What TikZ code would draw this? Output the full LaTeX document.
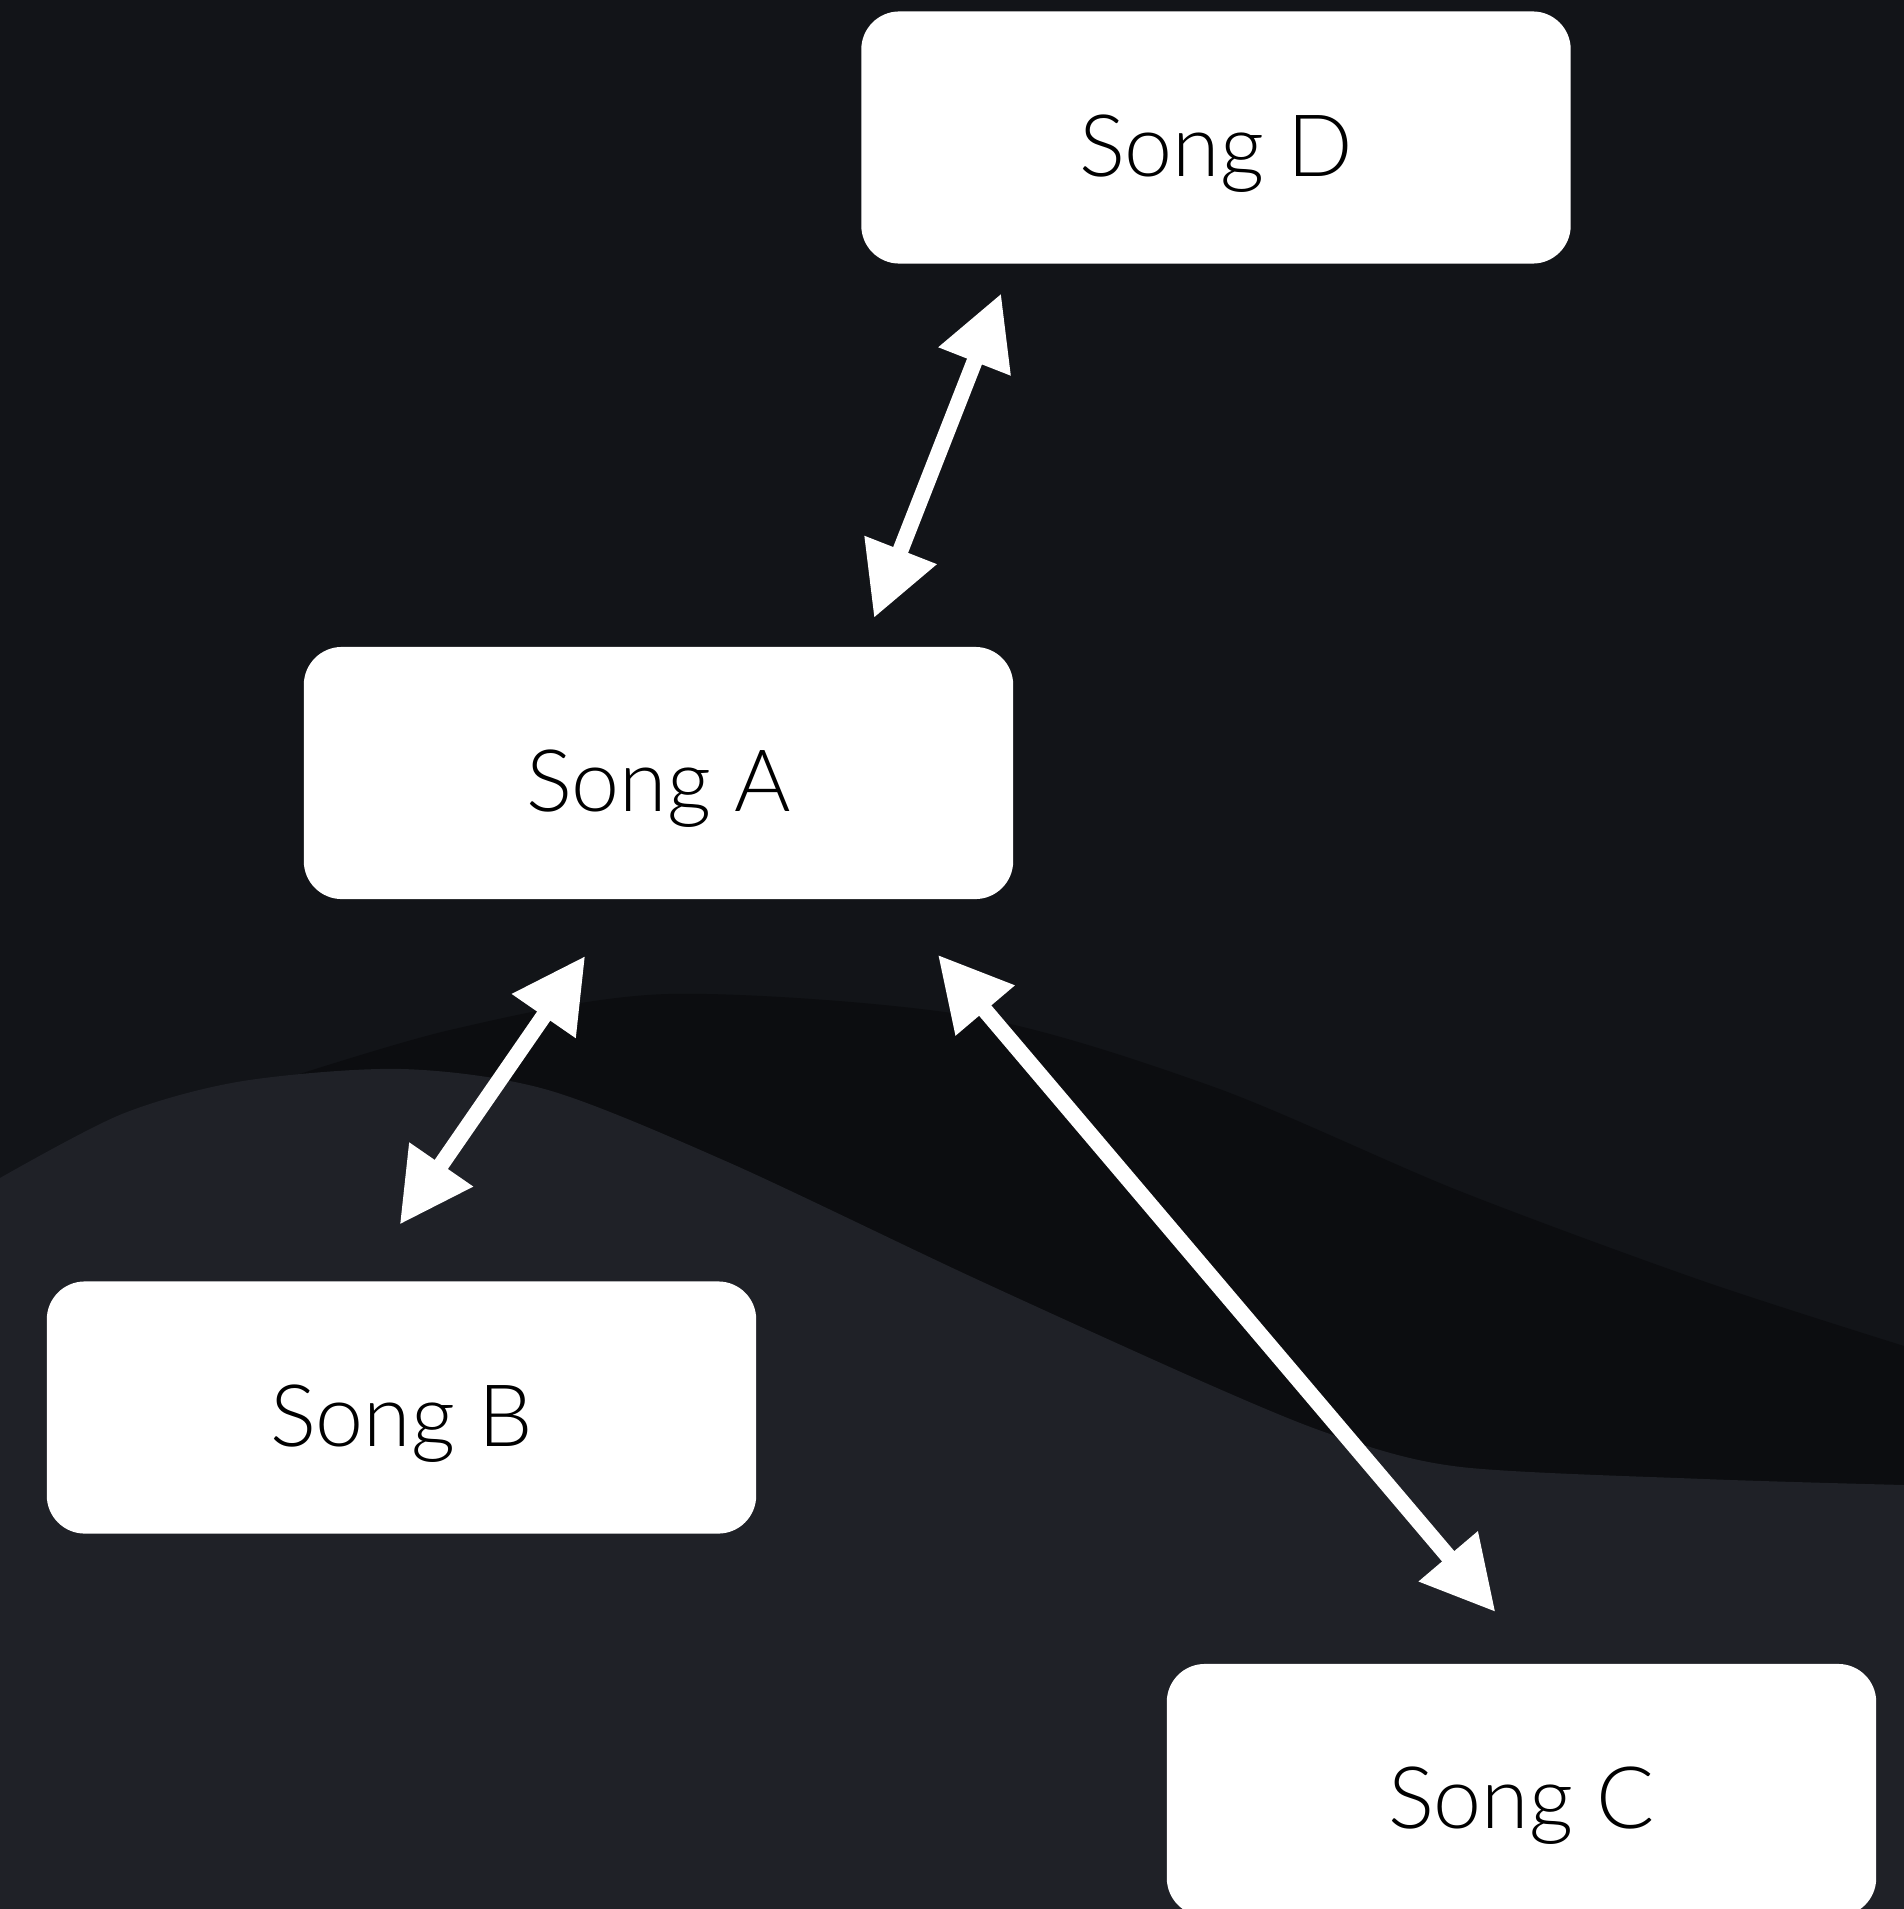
\documentclass[tikz,border=0pt]{standalone}
\usepackage{fontspec}
\setmainfont{Lato Light}
\usetikzlibrary{arrows.meta}
\definecolor{bgtop}{RGB}{18,20,24}
\definecolor{bgdark}{RGB}{12,13,16}
\definecolor{bglight}{RGB}{31,33,39}

\begin{document}
\begin{tikzpicture}[x=0.01cm,y=-0.01cm,
  song/.style={rectangle,rounded corners=0.38cm,fill=white,minimum width=7.09cm,minimum height=2.52cm,outer sep=0pt,
    font=\fontsize{24.5}{28}\selectfont,text height=21.9pt,text depth=0pt},
  link/.style={white,line width=4.55pt,{Triangle[length=20.8pt,width=20.8pt]}-{Triangle[length=20.8pt,width=20.8pt]}}]
\useasboundingbox (0,0) rectangle (1904,1909);
\clip (0,0) rectangle (1904,1909);
\fill[bgtop] (0,0) rectangle (1904,1909);
\fill[bgdark] plot[smooth] coordinates {(250,1090) (450,1030) (668,994) (971,1016) (1214,1087) (1457,1190) (1700,1280) (1904,1346)}
  -- (1904,1909) -- (250,1909) -- cycle;
\fill[bglight] plot[smooth] coordinates {(0,1178) (122,1114) (243,1081) (402,1069) (548,1090) (730,1163) (974,1278) (1217,1388) (1339,1437) (1461,1467) (1704,1479) (1904,1485)}
  -- (1904,1909) -- (0,1909) -- cycle;

\node [song] (D) at (1216,137.5) {Song D};
\node [song] (A) at (658.5,773) {Song A};
\node [song] (B) at (401.5,1407.5) {Song B};
\node [song] (C) at (1521.5,1790) {Song C};

\draw [link,shorten <=0.31cm,shorten >=0.32cm] ([xshift=2.04cm]A.north) -- ([xshift=-2.03cm]D.south);
\draw [link,shorten <=0.69cm,shorten >=0.69cm] ([xshift=-0.34cm]A.south) -- ([xshift=-0.41cm]B.north);
\draw [link,shorten <=0.73cm,shorten >=0.68cm] ([xshift=2.32cm]A.south) -- ([xshift=0.18cm]C.north);
\end{tikzpicture}
\end{document}
